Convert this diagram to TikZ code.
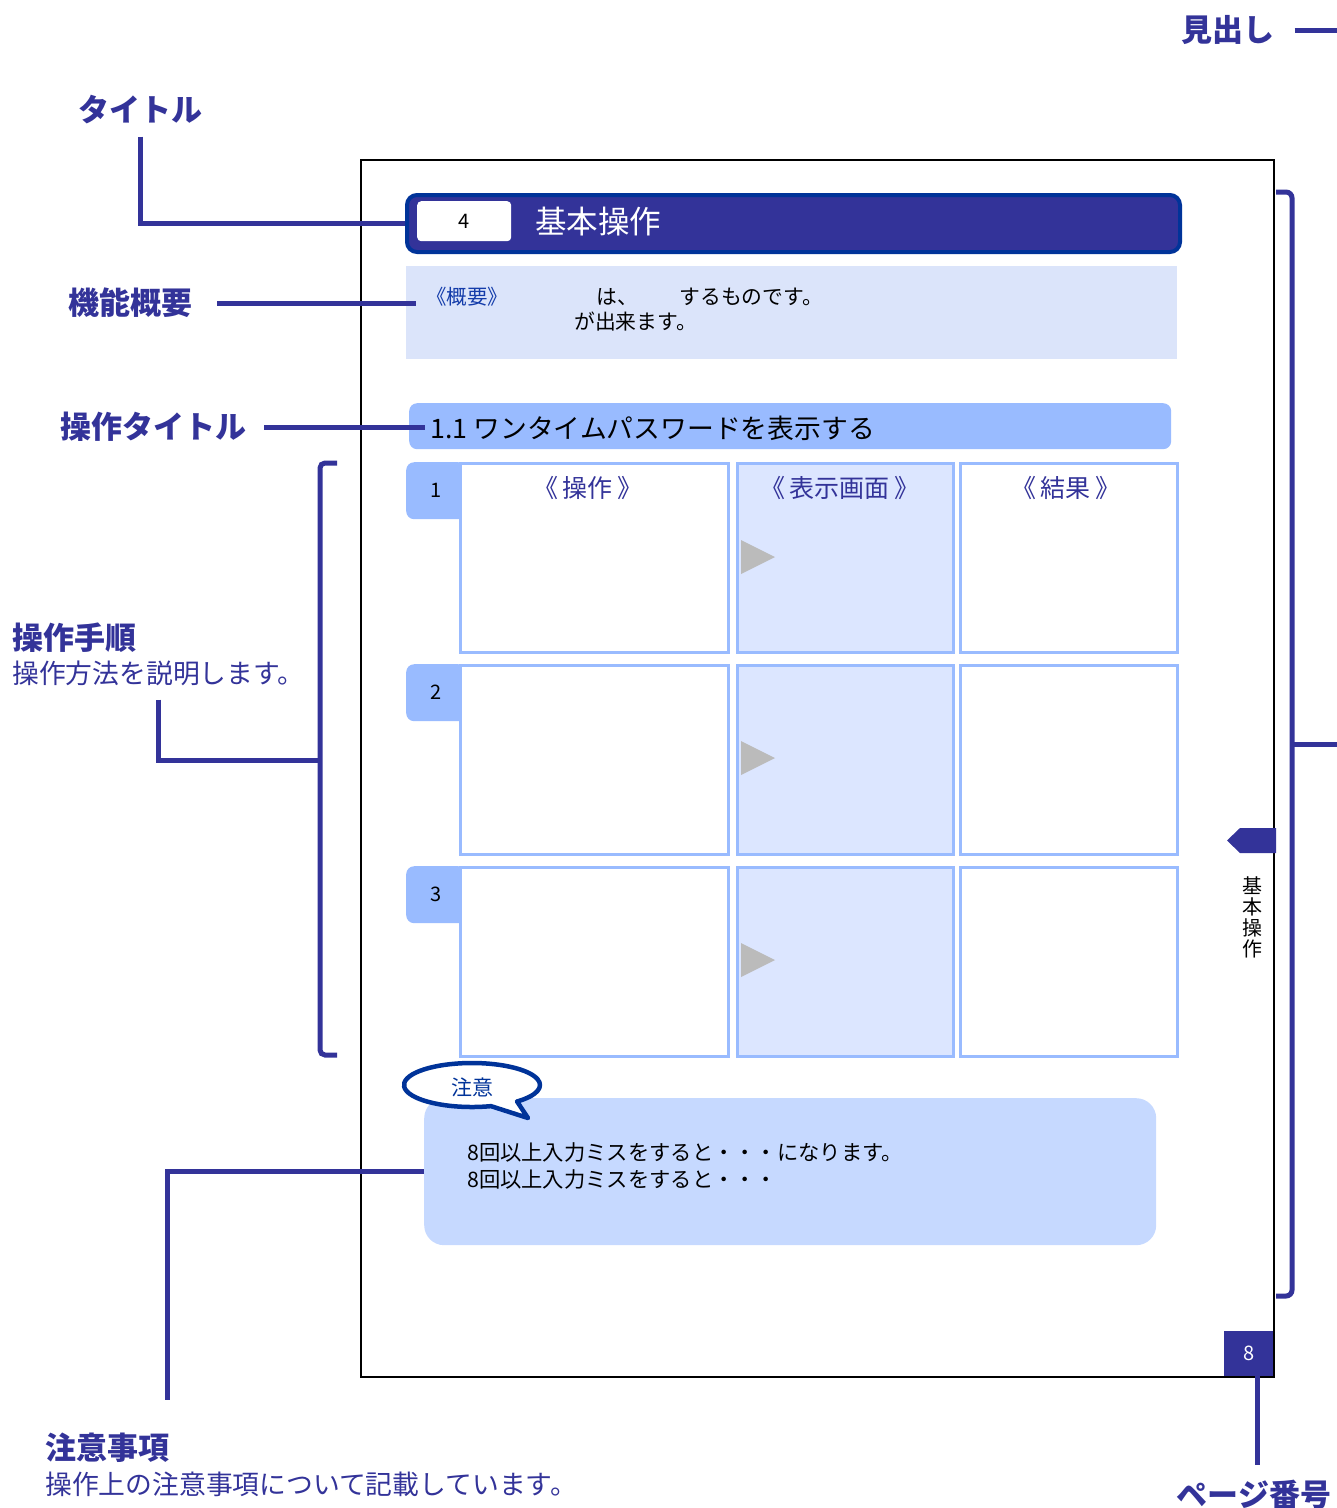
\documentclass[tikz,border=0pt]{standalone}
\usepackage{fontspec}
\setmainfont{Noto Sans CJK JP}
\definecolor{navy}{RGB}{51,51,153}
\definecolor{barline}{RGB}{0,51,153}
\definecolor{pale}{RGB}{219,228,250}
\definecolor{mid}{RGB}{153,187,255}
\definecolor{cellfill}{RGB}{220,230,255}
\definecolor{notefill}{RGB}{198,217,255}
\definecolor{linkblue}{RGB}{20,60,170}
\definecolor{tri}{RGB}{187,187,187}
\begin{document}
\begin{tikzpicture}[x=1pt,y=-1pt,
    lbl/.style={font=\fontsize{31}{36}\selectfont\bfseries,text=navy,inner sep=0pt},
    sub/.style={font=\fontsize{26.8}{30}\selectfont,text=navy,inner sep=0pt,anchor=west},
    lead/.style={draw=navy,line width=5pt},
    box/.style={anchor=north west,inner sep=0pt},
    cell/.style={box,draw=mid,line width=2.5pt,minimum height=189pt},
    tab/.style={box,fill=mid,rounded corners=8pt,minimum width=60pt,minimum height=57pt,font=\fontsize{20}{24}\selectfont},
    head/.style={font=\fontsize{25}{28}\selectfont,text=navy,inner sep=0pt},
    body/.style={font=\fontsize{20.8}{25}\selectfont,inner sep=0pt,anchor=west}]
  \useasboundingbox (0,0) rectangle (1337,1508);
  % page frame
  \node[box,draw,line width=1.5pt,minimum width=913pt,minimum height=1217pt] (page) at (360,159) {};
  % chapter bar
  \node[box,fill=navy,draw=barline,line width=4pt,rounded corners=10pt,minimum width=773pt,minimum height=57pt] (bar) at (405,193) {};
  \node[box,fill=white,rounded corners=4pt,minimum width=94pt,minimum height=40pt,font=\fontsize{20}{24}\selectfont] (chap) at (417,201) {4};
  \node[anchor=west,inner sep=0pt,text=white,font=\fontsize{31.5}{36}\selectfont] (bartxt) at (535,222) {基本操作};
  % overview
  \node[box,fill=pale,minimum width=771pt,minimum height=93pt] (gaiyo) at (406,266) {};
  \node[body,text=linkblue,font=\fontsize{20.5}{24}\selectfont] (gaiyohd) at (426,297) {《概要》};
  \node[body] (gaiyo1) at (596,297) {は、　　するものです。};
  \node[body] (gaiyo2) at (574,322) {が出来ます。};
  % section
  \node[box,fill=mid,rounded corners=8pt,minimum width=762pt,minimum height=46pt] (sec) at (409,403) {};
  \node[anchor=west,inner sep=0pt,font=\fontsize{26.8}{30}\selectfont] (sectxt) at (430,428) {1.1 ワンタイムパスワードを表示する};
  % steps
  \node[tab] (t1) at (406,462) {1};
  \node[tab] (t2) at (406,664) {2};
  \node[tab] (t3) at (406,866) {3};
  \node[cell,fill=white,minimum width=268pt] (c11) at (459,462) {};
  \node[cell,fill=cellfill,minimum width=216pt] (c12) at (736,462) {};
  \node[cell,fill=white,minimum width=217pt] (c13) at (959,462) {};
  \node[cell,fill=white,minimum width=268pt] (c21) at (459,664) {};
  \node[cell,fill=cellfill,minimum width=216pt] (c22) at (736,664) {};
  \node[cell,fill=white,minimum width=217pt] (c23) at (959,664) {};
  \node[cell,fill=white,minimum width=268pt] (c31) at (459,866) {};
  \node[cell,fill=cellfill,minimum width=216pt] (c32) at (736,866) {};
  \node[cell,fill=white,minimum width=217pt] (c33) at (959,866) {};
  \node[head] (h1) at (588,488) {《\,操作\,》};
  \node[head] (h2) at (840,488) {《\,表示画面\,》};
  \node[head] (h3) at (1066,488) {《\,結果\,》};
  \fill[tri] (741,540) -- (775,557) -- (741,574) -- cycle;
  \fill[tri] (741,741) -- (775,758) -- (741,775) -- cycle;
  \fill[tri] (741,943) -- (775,960) -- (741,977) -- cycle;
  % note
  \node[box,fill=notefill,rounded corners=20pt,minimum width=732pt,minimum height=147pt] (note) at (424,1098) {};
  \node[body,font=\fontsize{21.3}{27}\selectfont,align=left] (notetxt) at (467,1166) {8回以上入力ミスをすると・・・になります。\\8回以上入力ミスをすると・・・};
  \coordinate (bub) at (472,1085);
  \draw[draw=barline,fill=white,line width=4.5pt,line join=round] ([shift={(73.8:68 and 22)}]bub) arc[start angle=73.8,end angle=408.5,x radius=68,y radius=22] -- (528,1118) -- cycle;
  \node[text=barline,inner sep=0pt,font=\fontsize{21}{24}\selectfont] (chui) at (472,1087) {注意};
  % side tab and page number
  \fill[navy] (1276,828) -- (1240,828) -- (1227,840.5) -- (1240,853) -- (1276,853) -- cycle;
  \node[inner sep=0pt,align=center,font=\fontsize{20}{21}\selectfont] (sidetxt) at (1252,917) {基\\本\\操\\作};
  \node[box,fill=navy,text=white,minimum width=49pt,minimum height=45pt,font=\fontsize{20}{24}\selectfont] (pgno) at (1224,1331) {8};
  % brackets
  \draw[lead,rounded corners=5pt] (337,463) -- (320,463) -- (320,1055) -- (337,1055);
  \draw[lead,rounded corners=6pt] (1276,192) -- (1292,192) -- (1292,1296) -- (1276,1296);
  % labels
  \node[lbl] (midashi) at (1228,30) {見出し};
  \node[lbl] (title) at (140,110) {タイトル};
  \node[lbl] (kinou) at (130,303) {機能概要};
  \node[lbl] (sosa) at (153,427) {操作タイトル};
  \node[lbl,anchor=west] (tejun) at (12,638) {操作手順};
  \node[sub] (tejunsub) at (12,673) {操作方法を説明します。};
  \node[lbl,anchor=west] (chuijiko) at (45,1448) {注意事項};
  \node[sub] (chuisub) at (45,1484) {操作上の注意事項について記載しています。};
  \node[lbl] (pglbl) at (1254,1495) {ページ番号};
  % leaders
  \coordinate (midashiend) at (1337,30);
  \coordinate (brkL) at (320,760);
  \coordinate (brkR) at (1292,744);
  \coordinate (brkRend) at (1337,744);
  \coordinate (noteend) at (167,1400);
  \coordinate (pgend) at (1257,1465);
  \draw[lead,shorten <=20pt] (midashi.east) -- (midashiend);
  \draw[lead,shorten <=12pt] (title.south) |- (bar.west);
  \draw[lead,shorten <=25pt,shorten >=-10pt] (kinou.east) -- (kinou.east -| gaiyo.west);
  \draw[lead,shorten <=18pt,shorten >=-16pt] (sosa.east) -- (sosa.east -| sec.west);
  \draw[lead,shorten <=14pt] (tejunsub.south) |- (brkL);
  \draw[lead] (brkR) -- (brkRend);
  \draw[lead] (note.west) -| (noteend);
  \draw[lead] (pgend |- pgno.south) -- (pgend);
\end{tikzpicture}
\end{document}
